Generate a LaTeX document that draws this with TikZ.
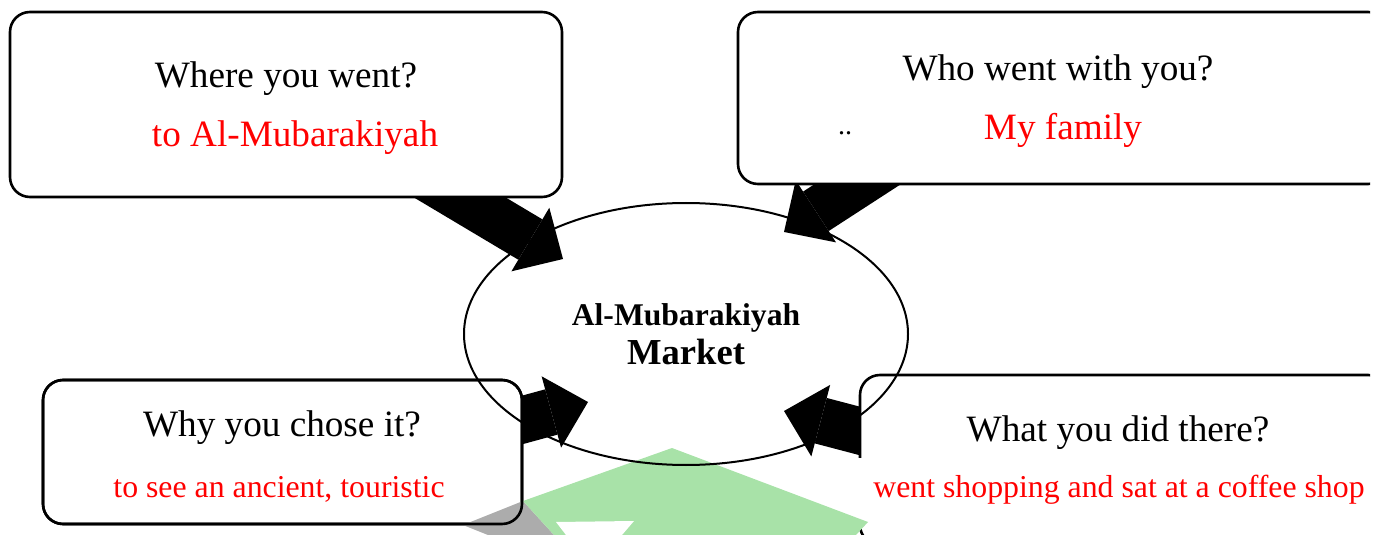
\documentclass[tikz,border=0pt]{standalone}
\usepackage{fontspec}
\setmainfont{Liberation Serif}
\usetikzlibrary{arrows.meta,shapes.geometric,calc,backgrounds}
\definecolor{wmgreen}{RGB}{168,226,168}
\definecolor{wmgray}{RGB}{172,172,172}
\newcommand{\qsize}{\fontsize{18.6}{22}\selectfont}
\newcommand{\asize}{\fontsize{15.9}{19}\selectfont}

\begin{document}
\begin{tikzpicture}[x=0.5pt,y=-0.5pt,
  qbox/.style={draw,line width=1.3pt,rounded corners=10pt,fill=white,inner sep=0pt,outer sep=0pt},
  bigarrow/.style={line width=23.5pt,shorten <=-20pt,-{Triangle[width=37pt,length=19pt,line width=0pt]}},
  qtext/.style={anchor=base,font=\qsize},
  atext/.style={anchor=base,font=\asize,text=red}]
  \useasboundingbox (0,0) rectangle (1383,535);
  \clip (0,0) rectangle (1370,535);
  % question boxes
  \node[qbox,minimum width=276pt,minimum height=92.5pt] (where) at (286,104.5) {};
  \node[qbox,minimum width=325pt,minimum height=86pt] (who) at (1063,98) {};
  \node[qbox,minimum width=239.5pt,minimum height=72pt] (why) at (282.5,452) {};
  \node[qbox,minimum width=264pt,minimum height=85pt] (what) at (1124,460) {};
  % arrow tips inside the ellipse
  \coordinate (whereTip) at (563,259);
  \coordinate (whoTip) at (784,232);
  \coordinate (whyTip) at (588,402);
  \coordinate (whatTip) at (784,411);
  \begin{scope}[on background layer]
    \draw[bigarrow] ($(where.south west)+(449,0)$) -- (whereTip);
    \draw[bigarrow] ($(who.south west)+(120,0)$) -- (whoTip);
    \draw[bigarrow] ($(why.east)+(0,-32)$) -- (whyTip);
    \draw[bigarrow] ($(what.west)+(0,-29)$) -- (whatTip);
  \end{scope}
  % faded picture at the bottom
  \fill[white] (853,458) rectangle (868,521);
  \fill[wmgray] (463,525) -- (523,501) -- (554,535) -- (488,535) -- cycle;
  \fill[wmgreen] (523,501) -- (672,448) -- (868,522) -- (856,535) -- (554,535) -- cycle;
  \fill[white] (556,522) -- (634,521) -- (622,535) -- (566,535) -- cycle;
  \draw[line width=1.3pt,rounded corners=10pt] (why.south west) rectangle (why.north east);
  % centre
  \node[draw,ellipse,line width=1pt,minimum width=222pt,minimum height=131pt,inner sep=0pt] (market) at (686,334) {};
  \node[anchor=base,font=\fontsize{15.8}{18}\selectfont\bfseries] (marketA) at (686,325) {Al-Mubarakiyah};
  \node[anchor=base,font=\fontsize{18.3}{22}\selectfont\bfseries] (marketB) at (686,364) {Market};
  % texts
  \node[qtext] (whereQ) at (286,88) {Where you went?};
  \node[atext,font=\qsize] (whereA) at (295,147) {to Al-Mubarakiyah};
  \node[qtext] (whoQ) at (1058,81) {Who went with you?};
  \node[anchor=base,font=\fontsize{14}{16}\selectfont] (whoDots) at (845,134.5) {..};
  \node[atext,font=\qsize] (whoA) at (1063,140) {My family};
  \node[qtext] (whyQ) at (282,436) {Why you chose it?};
  \node[atext] (whyA) at (279,497) {to see an ancient, touristic};
  \node[qtext] (whatQ) at (1118,441) {What you did there?};
  \node[atext] (whatA) at (1119,497) {went shopping and sat at a coffee shop};
\end{tikzpicture}
\end{document}
